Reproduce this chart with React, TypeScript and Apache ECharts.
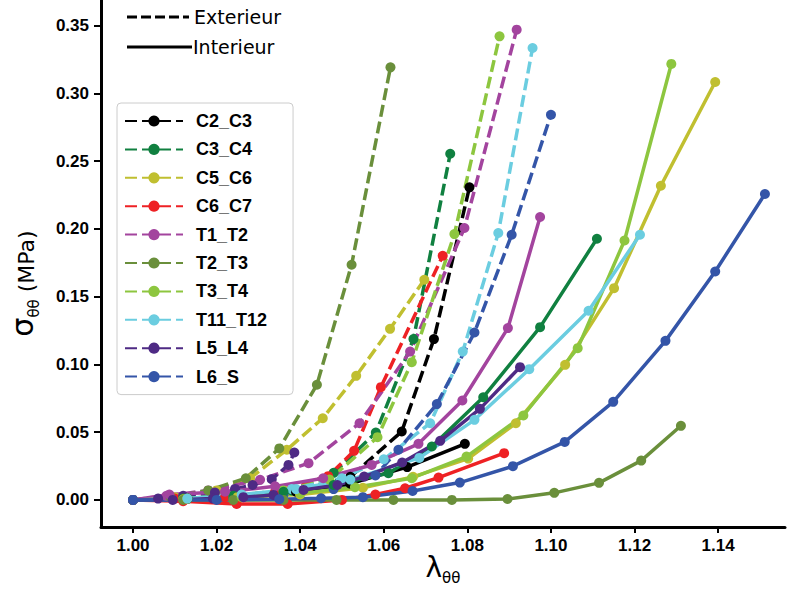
import React, { useEffect, useRef } from "react";
import * as echarts from "echarts";

const labels = ["C2_C3", "C3_C4", "C5_C6", "C6_C7", "T1_T2", "T2_T3", "T3_T4", "T11_T12", "L5_L4", "L6_S"];
const colors = ["#000000", "#108040", "#c0bf30", "#ee2124", "#a3449e", "#6a8f3b", "#8dc63f", "#6bcde0", "#4e2a84", "#3455a8"];

const xTicks = [1.0, 1.02, 1.04, 1.06, 1.08, 1.1, 1.12, 1.14];
const yTicks = [0, 0.05, 0.1, 0.15, 0.2, 0.25, 0.3, 0.35];

// Exterieur (dashed)
const C2_C3_ext = [[1.0, 0], [1.013, 0.001], [1.026, 0.003], [1.039, 0.007], [1.052, 0.017], [1.0643, 0.0505], [1.072, 0.1187], [1.0805, 0.2307]];
const C3_C4_ext = [[1.0, 0], [1.013, 0.001], [1.026, 0.003], [1.038, 0.007], [1.048, 0.02], [1.0581, 0.0497], [1.0671, 0.1187], [1.0759, 0.2555]];
const C5_C6_ext = [[1.0, 0], [1.01, 0.002], [1.02, 0.007], [1.028, 0.016], [1.0368, 0.037], [1.0454, 0.0603], [1.0534, 0.0916], [1.0615, 0.1263], [1.0697, 0.1625]];
const C6_C7_ext = [[1.0, 0], [1.01, 0.001], [1.022, 0.002], [1.034, 0.006], [1.0467, 0.0175], [1.0529, 0.0362], [1.0593, 0.0832], [1.0741, 0.1802]];
const T1_T2_ext = [[1.0, 0], [1.008, 0.003], [1.018, 0.007], [1.0304, 0.0148], [1.042, 0.0271], [1.0542, 0.0566], [1.0663, 0.1095], [1.0793, 0.2007], [1.0918, 0.3471]];
const T2_T3_ext = [[1.0, 0], [1.009, 0.002], [1.018, 0.007], [1.027, 0.016], [1.035, 0.038], [1.044, 0.085], [1.0523, 0.1736], [1.0616, 0.3193]];
const T3_T4_ext = [[1.0, 0], [1.012, 0.001], [1.024, 0.003], [1.036, 0.007], [1.047, 0.015], [1.0585, 0.0463], [1.0667, 0.1017], [1.0769, 0.1962], [1.0877, 0.3422]];
const T11_T12_ext = [[1.0, 0], [1.012, 0.001], [1.025, 0.003], [1.038, 0.008], [1.05, 0.016], [1.06, 0.03], [1.0711, 0.0566], [1.0789, 0.1095], [1.0874, 0.197], [1.0956, 0.3336]];
const L5_L4_ext = [[1.0, 0], [1.006, 0.001], [1.012, 0.003], [1.0196, 0.0054], [1.0244, 0.0081], [1.0286, 0.011], [1.0332, 0.0153], [1.0372, 0.0258], [1.0386, 0.035]];
const L6_S_ext = [[1.0, 0], [1.012, 0.0], [1.024, 0.001], [1.036, 0.004], [1.048, 0.008], [1.058, 0.018], [1.0635, 0.037], [1.0727, 0.0707], [1.0817, 0.1236], [1.0906, 0.1957], [1.1, 0.2843]];

// Interieur (solid)
const C2_C3_int = [[1.0, 0], [1.013, 0.001], [1.026, 0.003], [1.039, 0.006], [1.052, 0.012], [1.0656, 0.0242], [1.0794, 0.0414]];
const C3_C4_int = [[1.0, 0], [1.012, 0.001], [1.024, 0.003], [1.036, 0.006], [1.048, 0.011], [1.0611, 0.0197], [1.0715, 0.0394], [1.0838, 0.0758], [1.0974, 0.1275], [1.111, 0.1928]];
const C5_C6_int = [[1.0, 0], [1.012, 0.0005], [1.025, 0.002], [1.04, 0.004], [1.055, 0.009], [1.067, 0.017], [1.0802, 0.0305], [1.0916, 0.0566], [1.1034, 0.0997], [1.1151, 0.1563], [1.1263, 0.2319], [1.1393, 0.3085]];
const C6_C7_int = [[1.0, 0], [1.012, -0.001], [1.0248, -0.003], [1.037, -0.003], [1.05, 0.0], [1.058, 0.004], [1.0651, 0.0086], [1.0731, 0.0165], [1.0888, 0.0345]];
const T1_T2_int = [[1.0, 0], [1.0087, 0.004], [1.022, 0.006], [1.034, 0.01], [1.0455, 0.016], [1.0571, 0.0258], [1.0683, 0.0414], [1.0788, 0.0734], [1.0897, 0.1268], [1.0974, 0.2088]];
const T2_T3_int = [[1.0, 0], [1.012, 0], [1.024, 0], [1.036, 0], [1.0487, 0], [1.0623, 0], [1.0763, 0.0], [1.0896, 0.0007], [1.1008, 0.0052], [1.1115, 0.0126], [1.1216, 0.029], [1.1311, 0.0547]];
const T3_T4_int = [[1.0, 0], [1.013, 0.001], [1.026, 0.002], [1.04, 0.005], [1.0531, 0.0094], [1.0667, 0.016], [1.0798, 0.032], [1.0934, 0.0623], [1.1064, 0.112], [1.1176, 0.1915], [1.1288, 0.3218]];
const T11_T12_int = [[1.0, 0], [1.013, 0.001], [1.026, 0.004], [1.039, 0.008], [1.052, 0.015], [1.0685, 0.031], [1.0817, 0.0591], [1.0948, 0.0965], [1.109, 0.1396], [1.1213, 0.1957]];
const L5_L4_int = [[1.0, 0], [1.0095, 0.0], [1.0191, 0.001], [1.0264, 0.002], [1.0336, 0.0037], [1.0408, 0.0074], [1.0489, 0.011], [1.0553, 0.0172], [1.0644, 0.0276], [1.0735, 0.0436], [1.083, 0.0672], [1.0926, 0.098]];
const L6_S_int = [[1.0, 0], [1.02, 0], [1.035, 0.0005], [1.045, 0.0012], [1.055, 0.002], [1.0669, 0.0066], [1.0782, 0.0128], [1.0909, 0.0249], [1.1033, 0.0428], [1.1149, 0.0724], [1.1274, 0.1174], [1.1393, 0.1686], [1.1512, 0.2258]];

const extData = [C2_C3_ext, C3_C4_ext, C5_C6_ext, C6_C7_ext, T1_T2_ext, T2_T3_ext, T3_T4_ext, T11_T12_ext, L5_L4_ext, L6_S_ext];
const intData = [C2_C3_int, C3_C4_int, C5_C6_int, C6_C7_int, T1_T2_int, T2_T3_int, T3_T4_int, T11_T12_int, L5_L4_int, L6_S_int];

const tickFont = "'Liberation Sans Narrow', 'Liberation Sans', Arial, sans-serif";

export default function App() {
  const ref = useRef<HTMLDivElement>(null);
  useEffect(() => {
    if (!ref.current) return;
    const chart = echarts.init(ref.current, null, { renderer: "svg" });
    const series: any[] = [];
    labels.forEach((name, i) => {
      series.push({
        type: "line",
        name,
        data: extData[i],
        symbol: "circle",
        symbolSize: 10,
        lineStyle: { color: colors[i], width: 3.5, type: [12, 5] },
        itemStyle: { color: colors[i] },
        z: 2,
      });
    });
    labels.forEach((name, i) => {
      series.push({
        type: "line",
        name: name + " (int)",
        data: intData[i],
        symbol: "circle",
        symbolSize: 10,
        lineStyle: { color: colors[i], width: 3.5, type: "solid" },
        itemStyle: { color: colors[i] },
        z: 2,
      });
    });
    chart.setOption({
      animation: false,
      backgroundColor: "#ffffff",
      grid: { left: 101, right: 2, top: 0, bottom: 62, outerBoundsMode: "none", containLabel: false },
      xAxis: {
        type: "value",
        min: 0.99234,
        max: 1.156,
        name: "{l|λ}{s|θθ}",
        nameLocation: "middle",
        nameGap: 24,
        nameMoveOverlap: false,
        nameTextStyle: {
          fontSize: 28,
          fontFamily: "DejaVu Sans",
          rich: {
            l: { fontSize: 28, fontFamily: "DejaVu Sans", color: "#000", verticalAlign: "bottom", lineHeight: 30 },
            s: { fontSize: 15, fontFamily: "DejaVu Sans", color: "#000", verticalAlign: "bottom", lineHeight: 30, padding: [0, 0, -4, 0] },
          },
        },
        axisLine: { show: true, onZero: false, lineStyle: { color: "#000", width: 3 } },
        axisTick: { show: true, length: 6, lineStyle: { color: "#000", width: 2 }, customValues: xTicks },
        axisLabel: {
          customValues: xTicks,
          formatter: (v: number) => v.toFixed(2),
          fontSize: 17,
          fontWeight: "bold",
          fontFamily: tickFont,
          color: "#000",
          margin: 10,
        },
        splitLine: { show: false },
      },
      yAxis: {
        type: "value",
        min: -0.02,
        max: 0.369,
        name: "{l|σ}{s|θθ}{u| (MPa)}{sp| }",
        nameLocation: "middle",
        nameGap: 64,
        nameRotate: 90,
        nameMoveOverlap: false,
        nameTextStyle: {
          fontSize: 22,
          fontFamily: "DejaVu Sans",
          rich: {
            l: { fontSize: 30, fontFamily: "DejaVu Sans", color: "#000", verticalAlign: "bottom", lineHeight: 36 },
            s: { fontSize: 15, fontFamily: "DejaVu Sans", color: "#000", verticalAlign: "bottom", lineHeight: 36, padding: [0, 0, -4, 0] },
            u: { fontSize: 22, fontFamily: "DejaVu Sans", color: "#000", verticalAlign: "bottom", lineHeight: 36 },
            sp: { fontSize: 22, width: 40, lineHeight: 36 },
          },
        },
        axisLine: { show: true, onZero: false, lineStyle: { color: "#000", width: 3 } },
        axisTick: { show: true, length: 7, lineStyle: { color: "#000", width: 2 }, customValues: yTicks },
        axisLabel: {
          customValues: yTicks,
          formatter: (v: number) => v.toFixed(2),
          fontSize: 17,
          fontWeight: "bold",
          fontFamily: tickFont,
          color: "#000",
          margin: 12,
        },
        splitLine: { show: false },
      },
      legend: {
        data: labels,
        orient: "vertical",
        left: 117,
        top: 103,
        padding: [9, 26, 9, 7],
        itemWidth: 58,
        itemHeight: 14,
        itemGap: 10.4,
        backgroundColor: "#ffffff",
        borderColor: "#cccccc",
        borderWidth: 1,
        borderRadius: 4,
        textStyle: { fontSize: 18, fontWeight: "bold", fontFamily: "'Liberation Sans', Arial, sans-serif", color: "#000", padding: [0, 0, 0, 8] },
      },
      graphic: [
        { type: "line", shape: { x1: 127, y1: 17, x2: 189, y2: 17 }, style: { stroke: "#000", lineWidth: 3, lineDash: [10, 4] } },
        { type: "text", x: 194, y: 17, style: { text: "Exterieur", font: '19px "DejaVu Sans"', fill: "#000", verticalAlign: "middle" } },
        { type: "line", shape: { x1: 127, y1: 47, x2: 192, y2: 47 }, style: { stroke: "#000", lineWidth: 3 } },
        { type: "text", x: 193, y: 47, style: { text: "Interieur", font: '19px "DejaVu Sans"', fill: "#000", verticalAlign: "middle" } },
      ],
      series,
    });
    return () => chart.dispose();
  }, []);
  return <div ref={ref} style={{ width: 787, height: 589, position: "absolute", left: 0, top: 0 }} />;
}
